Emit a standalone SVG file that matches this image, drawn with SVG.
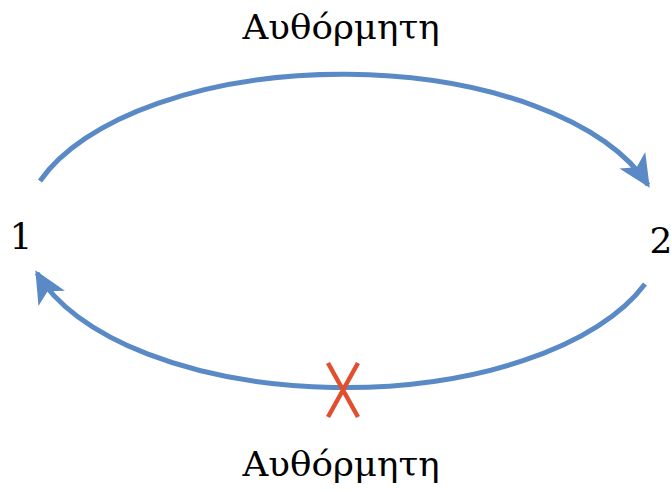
<svg xmlns="http://www.w3.org/2000/svg" width="671" height="491" viewBox="0 0 671 491">
<style>
.lbl{font-family:"DejaVu Serif","Liberation Serif",serif;font-size:34px;fill:#000}
.num{font-size:36px}
.arc{fill:none;stroke:#5A8AC6;stroke-width:5}
.x{stroke:#E0502F;stroke-width:4.5;stroke-linecap:butt}
</style>
<defs>
<marker id="ah" viewBox="0 0 10 10" refX="9" refY="5" markerWidth="6.5" markerHeight="6.5" orient="auto" markerUnits="strokeWidth">
<path d="M0,0.3 L10,5 L0,9.7 L2.5,5 Z" fill="#5A8AC6"/>
</marker>
</defs>
<rect width="671" height="491" fill="#fff"/>
<g id="connectors">
<path class="arc" d="M40,181 A320,158 0 0 1 648,185" marker-end="url(#ah)"/>
<path class="arc" d="M645,284 A320,158 0 0 1 37,273" marker-end="url(#ah)"/>
</g>
<g id="node1"><text class="lbl num" x="21" y="249" text-anchor="middle">1</text></g>
<g id="node2"><text class="lbl num" x="661" y="253" text-anchor="middle">2</text></g>
<g id="label-top"><text class="lbl" x="341" y="39" text-anchor="middle" textLength="197" lengthAdjust="spacingAndGlyphs">Αυθόρμητη</text></g>
<g id="label-bottom"><text class="lbl" x="341" y="476" text-anchor="middle" textLength="197" lengthAdjust="spacingAndGlyphs">Αυθόρμητη</text></g>
<g id="blocked">
<line class="x" x1="328" y1="363" x2="358" y2="417"/>
<line class="x" x1="358" y1="363" x2="328" y2="417"/>
</g>
</svg>
